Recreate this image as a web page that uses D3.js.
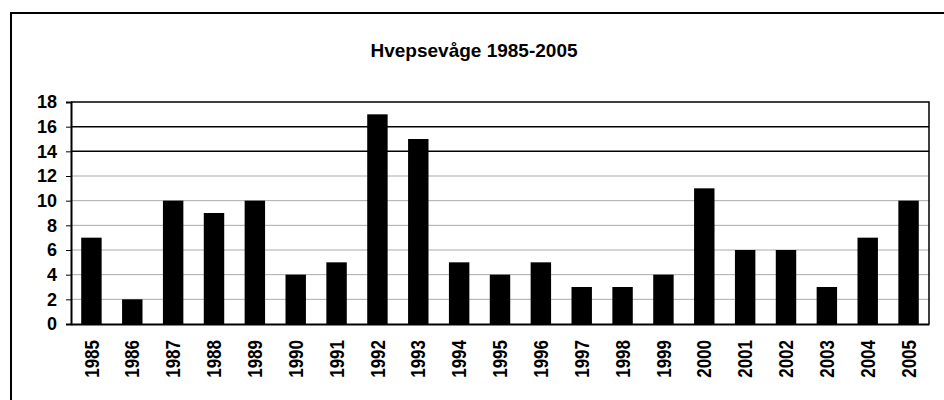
<!DOCTYPE html>
<html>
<head>
<meta charset="utf-8">
<script src="https://cdn.jsdelivr.net/npm/d3@7"></script>
<style>
  body { margin: 0; background: #fff; }
  svg { display: block; font-family: "Liberation Sans", Arial, sans-serif; }
</style>
</head>
<body>
<div id="chart"></div>
<script>
  // Data
  const years = ["1985", "1986", "1987", "1988", "1989", "1990", "1991", "1992", "1993", "1994", "1995",
                 "1996", "1997", "1998", "1999", "2000", "2001", "2002", "2003", "2004", "2005"];
  const counts = [7, 2, 10, 9, 10, 4, 5, 17, 15, 5, 4, 5, 3, 3, 4, 11, 6, 6, 3, 7, 10];
  const yTicks = [0, 2, 4, 6, 8, 10, 12, 14, 16, 18];
  const title = "Hvepsevåge 1985-2005";

  const width = 944;
  const height = 400;
  const plot = { left: 71, right: 929, top: 102, bottom: 324 };

  const svg = d3.select("#chart")
    .append("svg")
    .attr("width", width)
    .attr("height", height);

  // outer frame (runs off the right and bottom of the scan)
  svg.append("path")
    .attr("d", `M11,${height + 5} V13 H${width + 5}`)
    .attr("fill", "none")
    .attr("stroke", "#000")
    .attr("stroke-width", 2);

  // title
  svg.append("text")
    .attr("x", 474)
    .attr("y", 57)
    .attr("text-anchor", "middle")
    .style("font-size", "19px")
    .style("font-weight", "bold")
    .text(title);

  const x = d3.scaleBand()
    .domain(years)
    .range([plot.left, plot.right])
    .paddingInner(0.5)
    .paddingOuter(0.25);

  const y = d3.scaleLinear()
    .domain([0, 18])
    .range([plot.bottom, plot.top]);

  // grid lines
  svg.append("g")
    .selectAll("line")
    .data(yTicks.filter(d => d > 0 && d < 18))
    .enter()
    .append("line")
    .attr("x1", plot.left)
    .attr("x2", plot.right)
    .attr("y1", d => y(d))
    .attr("y2", d => y(d))
    .attr("stroke", d => d >= 14 ? "#000" : "#aaa")
    .attr("stroke-width", d => d >= 14 ? 1.5 : 1);

  // bars
  svg.append("g")
    .selectAll("rect")
    .data(years.map((yr, i) => ({ year: yr, value: counts[i] })))
    .enter()
    .append("rect")
    .attr("x", d => x(d.year))
    .attr("y", d => y(d.value))
    .attr("width", x.bandwidth())
    .attr("height", d => y(0) - y(d.value))
    .attr("fill", "#000");

  // plot frame: top and right
  svg.append("path")
    .attr("d", `M${plot.left},${plot.top} H${plot.right} V${plot.bottom}`)
    .attr("fill", "none")
    .attr("stroke", "#000")
    .attr("stroke-width", 1.5);

  // y axis
  const yAxis = svg.append("g")
    .attr("transform", `translate(${plot.left},0)`)
    .call(d3.axisLeft(y).tickValues(yTicks).tickSize(5).tickPadding(9));
  yAxis.select(".domain").attr("stroke-width", 2);
  yAxis.selectAll("text")
    .attr("fill", "#000")
    .style("font-family", "'Liberation Sans', Arial, sans-serif")
    .style("font-size", "18px")
    .style("font-weight", "bold");

  // x axis
  const xAxis = svg.append("g")
    .attr("transform", `translate(0,${plot.bottom})`)
    .call(d3.axisBottom(x).tickSize(0).tickFormat(""));
  xAxis.select(".domain").attr("stroke-width", 2);

  // rotated year labels
  svg.append("g")
    .selectAll("text")
    .data(years)
    .enter()
    .append("text")
    .attr("transform", d => `translate(${x(d) + x.bandwidth() / 2},340) rotate(-90) scale(0.85,1)`)
    .attr("text-anchor", "end")
    .attr("dy", "0.36em")
    .style("font-size", "20px")
    .style("font-weight", "bold")
    .text(d => d);
</script>
</body>
</html>
